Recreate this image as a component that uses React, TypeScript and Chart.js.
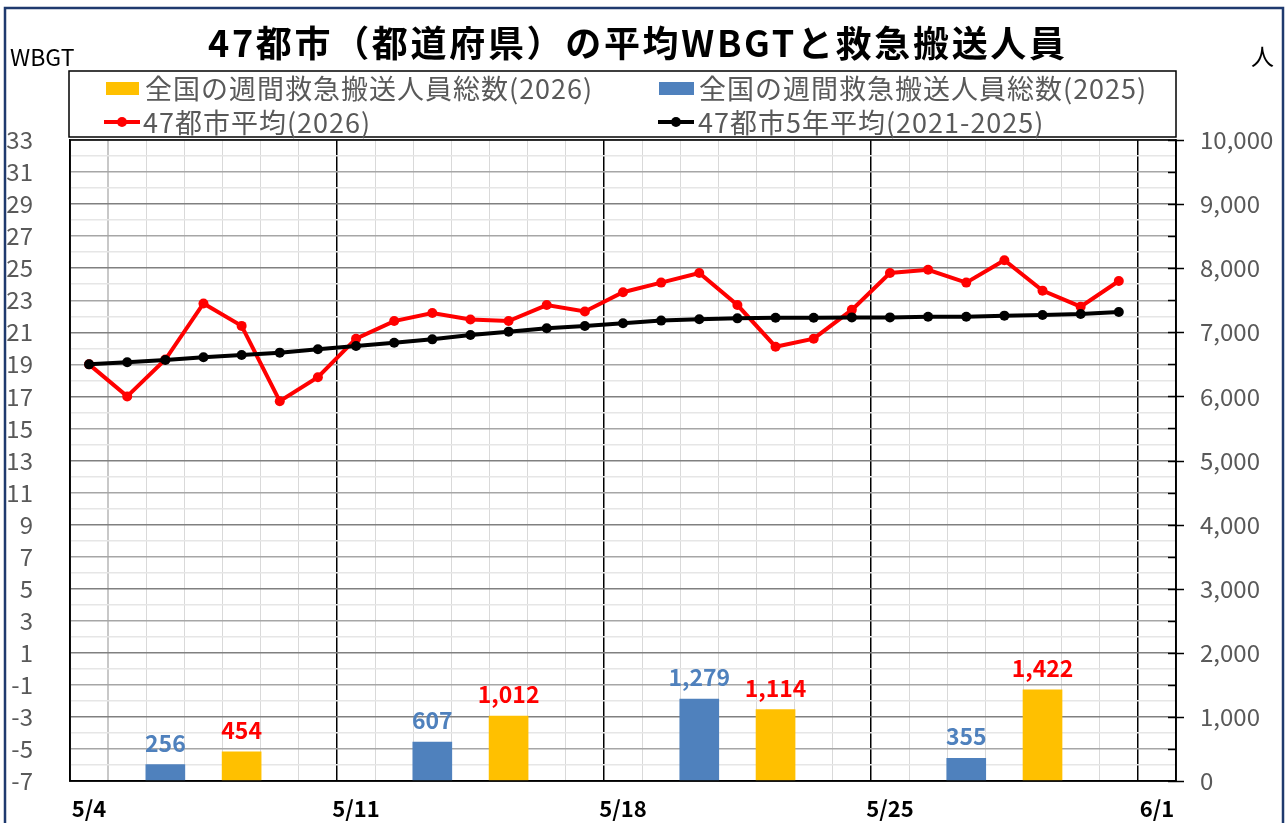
import React, { useEffect, useRef } from 'react';
import { Chart, registerables } from 'chart.js';

Chart.register(...registerables);

const FONT = "'Noto Sans CJK JP', 'Noto Sans', sans-serif";

const categories = [
  '5/4', '5/5', '5/6', '5/7', '5/8', '5/9', '5/10',
  '5/11', '5/12', '5/13', '5/14', '5/15', '5/16', '5/17',
  '5/18', '5/19', '5/20', '5/21', '5/22', '5/23', '5/24',
  '5/25', '5/26', '5/27', '5/28', '5/29', '5/30', '5/31',
  '6/1',
];
const xTickLabels = ['5/4', '5/11', '5/18', '5/25', '6/1'];

const wbgt2026 = [
  19.0, 17.0, 19.3, 22.8, 21.4, 16.7, 18.2,
  20.6, 21.7, 22.2, 21.8, 21.7, 22.7, 22.3,
  23.5, 24.1, 24.7, 22.7, 20.1, 20.6, 22.4,
  24.7, 24.9, 24.1, 25.5, 23.6, 22.6, 24.2,
  null,
];
const wbgt5yr = [
  19.0, 19.13, 19.27, 19.44, 19.58, 19.73, 19.94,
  20.15, 20.35, 20.56, 20.83, 21.04, 21.25, 21.39,
  21.56, 21.73, 21.81, 21.87, 21.91, 21.91, 21.93,
  21.93, 21.97, 21.97, 22.04, 22.08, 22.14, 22.27,
  null,
];
const transport2025 = [
  null, null, 256, null, null, null, null,
  null, null, 607, null, null, null, null,
  null, null, 1279, null, null, null, null,
  null, null, 355, null, null, null, null,
  null,
];
const transport2026 = [
  null, null, null, null, 454, null, null,
  null, null, null, null, 1012, null, null,
  null, null, null, null, 1114, null, null,
  null, null, null, null, 1422, null, null,
  null,
];

const wbgtMin = -7;
const wbgtMax = 33;
const peopleMin = 0;
const peopleMax = 10000;

const titleText = '47都市（都道府県）の平均WBGTと救急搬送人員';
const leftAxisTitle = 'WBGT';
const rightAxisTitle = '人';
const label2026Bar = '全国の週間救急搬送人員総数(2026)';
const label2025Bar = '全国の週間救急搬送人員総数(2025)';
const label2026Line = '47都市平均(2026)';
const label5yrLine = '47都市5年平均(2021-2025)';

const BLUE = '#4f81bd';
const YELLOW = '#ffc000';
const RED = '#ff0000';
const TEXT_GRAY = '#595959';

const fmt = (v: number) => v.toLocaleString('en-US');

const decorPlugin = {
  id: 'decor',
  beforeDraw(chart: any) {
    const { ctx } = chart;
    ctx.save();
    ctx.fillStyle = '#ffffff';
    ctx.fillRect(0, 0, chart.width, chart.height);
    ctx.restore();
  },
  afterDraw(chart: any) {
    const { ctx, chartArea } = chart;
    ctx.save();

    // plot frame
    ctx.strokeStyle = '#000';
    ctx.lineWidth = 1.5;
    ctx.strokeRect(chartArea.left, chartArea.top, chartArea.right - chartArea.left, chartArea.bottom - chartArea.top);

    // right axis tick marks
    const s2 = chart.scales.y2;
    ctx.lineWidth = 1.5;
    s2.ticks.forEach((t: any) => {
      const y = Math.round(s2.getPixelForValue(t.value)) + 0.5;
      const major = t.value % 1000 === 0;
      ctx.beginPath();
      ctx.moveTo(chartArea.right - 8, y);
      ctx.lineTo(chartArea.right + (major ? 8 : 0), y);
      ctx.stroke();
    });

    // bar value labels
    ctx.font = `bold 23px ${FONT}`;
    ctx.textAlign = 'center';
    ctx.textBaseline = 'alphabetic';
    chart.data.datasets.forEach((ds: any, i: number) => {
      if (ds.type !== 'bar') return;
      const meta = chart.getDatasetMeta(i);
      ctx.fillStyle = ds.labelColor;
      meta.data.forEach((el: any, j: number) => {
        const v = ds.data[j];
        if (v == null) return;
        ctx.fillText(fmt(v), el.x, el.y - 13);
      });
    });

    // title
    ctx.fillStyle = '#000';
    ctx.font = `bold 36px ${FONT}`;
    ctx.textAlign = 'left';
    ctx.textBaseline = 'middle';
    const target = 857;
    const w = ctx.measureText(titleText).width;
    const n = [...titleText].length;
    const ls = Math.max(0, Math.min(8, (target - w) / (n - 1)));
    (ctx as any).letterSpacing = `${ls}px`;
    ctx.fillText(titleText, 208, 43);
    (ctx as any).letterSpacing = '0px';

    // axis titles
    ctx.font = `23px ${FONT}`;
    ctx.fillStyle = '#000';
    ctx.textAlign = 'left';
    ctx.fillText(leftAxisTitle, 10, 57);
    ctx.fillText(rightAxisTitle, 1251, 56);

    // legend box
    const lx = chartArea.left - 1, ly = 71, lw = chartArea.right - chartArea.left + 1, lh = 66;
    ctx.fillStyle = '#fff';
    ctx.fillRect(lx, ly, lw, lh);
    ctx.strokeStyle = '#000';
    ctx.lineWidth = 1.5;
    ctx.strokeRect(lx, ly, lw, lh);

    const row1 = 88, row2 = 122;
    const col1 = 105, col2 = 659;
    ctx.fillStyle = YELLOW;
    ctx.fillRect(col1 + 1, row1 - 6, 33, 13);
    ctx.fillStyle = BLUE;
    ctx.fillRect(col2, row1 - 6, 35, 13);

    const lineMarker = (x: number, y: number, color: string) => {
      ctx.strokeStyle = color;
      ctx.lineWidth = 4;
      ctx.beginPath();
      ctx.moveTo(x, y);
      ctx.lineTo(x + 36, y);
      ctx.stroke();
      ctx.fillStyle = color;
      ctx.beginPath();
      ctx.arc(x + 18, y, 5, 0, Math.PI * 2);
      ctx.fill();
    };
    lineMarker(col1 - 1, row2, RED);
    lineMarker(col2 - 1, row2, '#000');

    ctx.fillStyle = TEXT_GRAY;
    ctx.font = `27px ${FONT}`;
    ctx.textAlign = 'left';
    ctx.textBaseline = 'middle';
    (ctx as any).letterSpacing = '1px';
    ctx.fillText(label2026Bar, 145, row1 + 1);
    ctx.fillText(label2025Bar, 699, row1 + 1);
    ctx.fillText(label2026Line, 143, row2 + 1);
    ctx.fillText(label5yrLine, 698, row2 + 1);
    (ctx as any).letterSpacing = '0px';

    // outer border
    ctx.strokeStyle = '#1f3a6e';
    ctx.lineWidth = 2.5;
    ctx.strokeRect(5, 8, 1278, 840);

    ctx.restore();
  },
};

export default function App() {
  const ref = useRef<HTMLCanvasElement | null>(null);

  useEffect(() => {
    if (!ref.current) return;
    const chart = new Chart(ref.current, {
      type: 'bar',
      data: {
        labels: categories,
        datasets: [
          {
            type: 'line',
            label: label5yrLine,
            data: wbgt5yr,
            yAxisID: 'y',
            borderColor: '#000',
            backgroundColor: '#000',
            borderWidth: 4,
            pointRadius: 5,
            pointBorderWidth: 0,
            pointBackgroundColor: '#000',
            order: 1,
          } as any,
          {
            type: 'line',
            label: label2026Line,
            data: wbgt2026,
            yAxisID: 'y',
            borderColor: RED,
            backgroundColor: RED,
            borderWidth: 4,
            pointRadius: 5,
            pointBorderWidth: 0,
            pointBackgroundColor: RED,
            order: 2,
          } as any,
          {
            type: 'bar',
            label: label2025Bar,
            data: transport2025,
            yAxisID: 'y2',
            backgroundColor: BLUE,
            grouped: false,
            barThickness: 39,
            labelColor: BLUE,
            order: 3,
          } as any,
          {
            type: 'bar',
            label: label2026Bar,
            data: transport2026,
            yAxisID: 'y2',
            backgroundColor: YELLOW,
            grouped: false,
            barThickness: 39,
            labelColor: RED,
            order: 3,
          } as any,
        ],
      },
      options: {
        responsive: false,
        animation: false,
        devicePixelRatio: 1,
        layout: { padding: { top: 140, left: 0, right: 0, bottom: 0 } },
        font: { family: FONT },
        plugins: {
          legend: { display: false },
          title: { display: false },
          tooltip: { enabled: false },
        },
        scales: {
          x: {
            offset: true,
            grid: {
              offset: true,
              drawTicks: false,
              color: (c: any) => (c.index === undefined || c.index % 7 === 0 ? '#000' : c.index === 1 ? '#c8c8c8' : '#d9d9d9'),
              lineWidth: (c: any) => (c.index === undefined || c.index % 7 === 0 ? 1.5 : c.index === 1 ? 2 : 1),
            },
            border: { display: true, color: '#000', width: 1.5 },
            ticks: {
              autoSkip: false,
              maxRotation: 0,
              padding: 14,
              color: '#000',
              font: { family: FONT, size: 22, weight: 'bold' },
              callback: (_v: any, i: number) => (xTickLabels.includes(categories[i]) ? categories[i] : ''),
            },
            afterFit: (s: any) => { s.height = 42; s.paddingLeft = 0; s.paddingRight = 0; },
          },
          y: {
            position: 'left',
            min: wbgtMin,
            max: wbgtMax,
            grid: {
              drawTicks: false,
              color: (c: any) => {
                const v = c.tick ? c.tick.value : 0;
                const k = v - wbgtMin;
                if (k % 4 === 0) return '#808080';
                if (k % 2 === 0) return '#a6a6a6';
                return '#e6e6e6';
              },
              lineWidth: 1.5,
            },
            border: { display: true, color: '#000', width: 1.5 },
            ticks: {
              stepSize: 1,
              autoSkip: false,
              padding: 37,
              color: TEXT_GRAY,
              font: { family: FONT, size: 24 },
              callback: (v: any) => (Math.abs(Number(v)) % 2 === 1 ? String(v) : ''),
            },
            afterFit: (s: any) => { s.width = 70; s.paddingTop = 0; s.paddingBottom = 0; },
          },
          y2: {
            position: 'right',
            min: peopleMin,
            max: peopleMax,
            grid: { drawOnChartArea: false, drawTicks: false },
            border: { display: true, color: '#000', width: 1.5 },
            ticks: {
              stepSize: 500,
              autoSkip: false,
              padding: 24,
              color: TEXT_GRAY,
              font: { family: FONT, size: 24 },
              callback: (v: any) => (Number(v) % 1000 === 0 ? fmt(Number(v)) : ''),
            },
            afterFit: (s: any) => { s.width = 111; s.paddingTop = 0; s.paddingBottom = 0; },
          },
        },
      } as any,
      plugins: [decorPlugin],
    });
    return () => chart.destroy();
  }, []);

  return (
    <div style={{ position: 'absolute', left: 0, top: 0, width: 1287, height: 823, background: '#fff' }}>
      <canvas ref={ref} width={1287} height={823} style={{ display: 'block' }} />
    </div>
  );
}
